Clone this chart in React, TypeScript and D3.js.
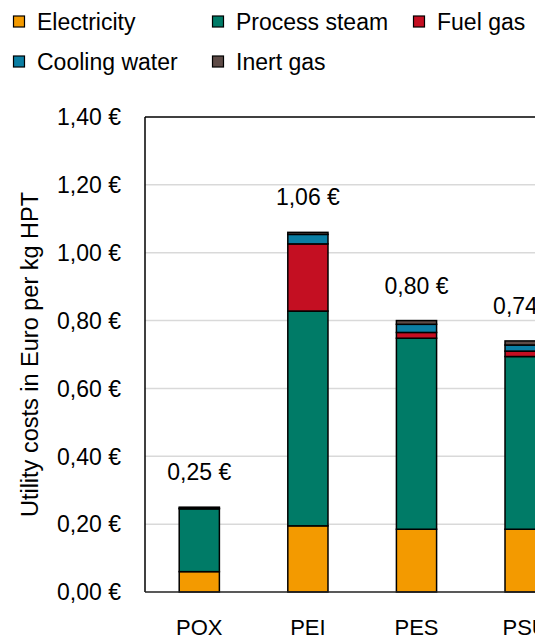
import React from 'react';
import * as d3 from 'd3';

const categories = ['POX', 'PEI', 'PES', 'PSU'];
const seriesNames = ['Electricity', 'Process steam', 'Fuel gas', 'Cooling water', 'Inert gas'];
const seriesColors = ['#F39A00', '#007B67', '#C40F22', '#0B7EA3', '#5E4B47'];
const electricity = [0.06, 0.195, 0.185, 0.185];
const processSteam = [0.185, 0.633, 0.563, 0.509];
const fuelGas = [0, 0.198, 0.017, 0.016];
const coolingWater = [0.002, 0.028, 0.024, 0.018];
const inertGas = [0.003, 0.006, 0.011, 0.012];
const yTicks = [0, 0.2, 0.4, 0.6, 0.8, 1.0, 1.2, 1.4];

const W = 535;
const H = 639;
const FONT = '"Liberation Sans", Arial, sans-serif';

const fmtEuro = (v: number) => v.toFixed(2).replace('.', ',') + ' €';

export default function App() {
  const left = 145;
  const top = 117;
  const bottom = 592;
  const step = 108.6;

  const rows = categories.map((c, i) => ({
    cat: c,
    'Electricity': electricity[i],
    'Process steam': processSteam[i],
    'Fuel gas': fuelGas[i],
    'Cooling water': coolingWater[i],
    'Inert gas': inertGas[i],
  }));

  const stacked = d3.stack<any>().keys(seriesNames)(rows);

  const x = d3.scaleBand<string>()
    .domain(categories)
    .range([left, left + step * categories.length])
    .paddingInner(0.63)
    .paddingOuter(0.315);

  const y = d3.scaleLinear().domain([0, 1.4]).range([bottom, top]);

  const color = d3.scaleOrdinal<string, string>().domain(seriesNames).range(seriesColors);

  const totals = categories.map((_, i) =>
    electricity[i] + processSteam[i] + fuelGas[i] + coolingWater[i] + inertGas[i]);

  // legend layout: two rows
  const legendPos = [
    { x: 13, y: 22 }, { x: 212, y: 22 }, { x: 413, y: 22 },
    { x: 13, y: 62 }, { x: 212, y: 62 },
  ];

  return (
    <svg width={W} height={H} style={{ position: 'absolute', left: 0, top: 0, background: '#fff' }}
      fontFamily={FONT}>
      {/* legend */}
      {seriesNames.map((s, i) => (
        <g key={s} transform={`translate(${legendPos[i].x}, ${legendPos[i].y})`}>
          <rect x={0.5} y={-6} width={11} height={11} fill={color(s)} stroke="#000" strokeWidth={1.2} />
          <text x={24} y={0} dy="0.36em" fontSize={23} fill="#000">{s}</text>
        </g>
      ))}

      {/* gridlines */}
      {yTicks.filter(t => t > 0 && t < 1.4).map(t => (
        <line key={t} x1={left} x2={W} y1={y(t)} y2={y(t)} stroke="#D9D9D9" strokeWidth={1.5} />
      ))}

      {/* y tick labels */}
      {yTicks.map(t => (
        <text key={t} x={121} y={y(t)} dy="0.36em" textAnchor="end" fontSize={23} fill="#000">
          {fmtEuro(t)}
        </text>
      ))}

      {/* y axis title */}
      <text transform={`translate(38, ${(top + bottom) / 2}) rotate(-90)`} textAnchor="middle"
        fontSize={23.5} fill="#000">
        Utility costs in Euro per kg HPT
      </text>

      {/* bars */}
      {stacked.map(layer => (
        <g key={layer.key} fill={color(layer.key)}>
          {layer.map((d, i) => {
            const h = y(d[0]) - y(d[1]);
            if (h <= 0) return null;
            return (
              <rect key={i} x={x(categories[i])} y={y(d[1])} width={x.bandwidth()} height={h}
                stroke="#000" strokeWidth={1.5} />
            );
          })}
        </g>
      ))}

      {/* plot frame */}
      <line x1={left} x2={left} y1={top} y2={bottom} stroke="#000" strokeWidth={1.5} />
      <line x1={left} x2={W} y1={top} y2={top} stroke="#000" strokeWidth={1.5} />
      <line x1={left} x2={W} y1={bottom} y2={bottom} stroke="#222" strokeWidth={1.5} />

      {/* total labels */}
      {categories.map((c, i) => (
        <text key={c} x={(x(c) as number) + x.bandwidth() / 2} y={y(totals[i]) - 27}
          textAnchor="middle" fontSize={23} fill="#000">
          {fmtEuro(totals[i])}
        </text>
      ))}

      {/* x labels */}
      {categories.map(c => (
        <text key={c} x={(x(c) as number) + x.bandwidth() / 2} y={635} textAnchor="middle"
          fontSize={22} fill="#000">
          {c}
        </text>
      ))}
    </svg>
  );
}
